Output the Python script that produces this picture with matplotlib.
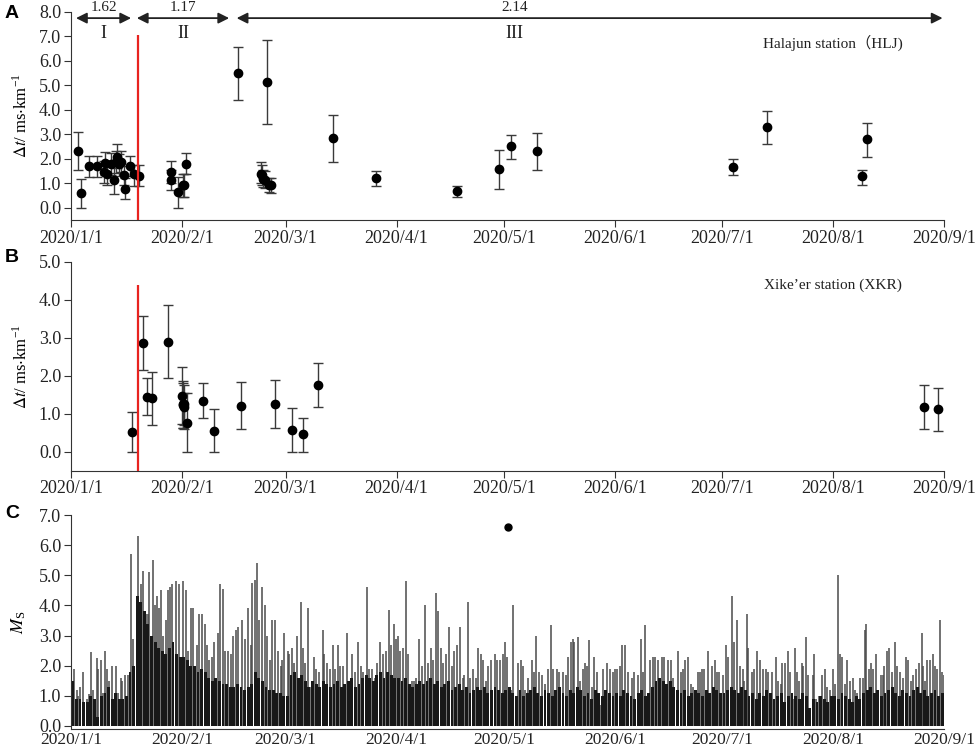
import numpy as np
import matplotlib
matplotlib.use('Agg')
import matplotlib.pyplot as plt
import matplotlib.dates as mdates
from matplotlib.ticker import FuncFormatter, MultipleLocator

# ---- panel A: Halajun station (HLJ), days since 2020-01-01 ----
hlj_day = [1.86, 2.70, 5.12, 7.36, 9.50, 9.22, 9.97, 11.09, 11.93, 12.48, 12.95, 13.51,
           14.07, 14.91, 15.09, 16.58, 17.61, 19.10,
           27.95, 28.05, 29.82, 31.2, 31.5, 32.25,
           46.58, 54.87, 53.0, 53.4, 53.7, 54.2, 55.43, 55.8,
           73.13, 85.24, 107.88, 119.62, 122.97, 130.14,
           185.11, 194.43, 220.98, 222.38]
hlj_dt = [2.32, 0.60, 1.69, 1.69, 1.83, 1.46, 1.39, 1.77, 1.15, 1.87, 2.08, 1.77,
          1.87, 1.32, 0.78, 1.69, 1.38, 1.31,
          1.46, 1.15, 0.64, 0.91, 0.94, 1.80,
          5.49, 5.15, 1.39, 1.32, 1.19, 1.12, 0.94, 0.91,
          2.85, 1.23, 0.70, 1.58, 2.51, 2.32,
          1.67, 3.32, 1.28, 2.81]
hlj_lo = [1.56, 0.00, 1.26, 1.26, 1.35, 1.00, 0.95, 1.32, 0.57, 1.42, 1.62, 1.30,
          1.45, 0.95, 0.37, 1.30, 0.90, 0.87,
          1.00, 0.74, 0.00, 0.44, 0.45, 1.37,
          4.40, 3.41, 1.01, 0.95, 0.85, 0.80, 0.65, 0.62,
          1.87, 0.89, 0.44, 0.78, 1.99, 1.53,
          1.32, 2.62, 0.91, 2.08]
hlj_hi = [3.10, 1.19, 2.12, 2.12, 2.28, 1.90, 1.85, 2.23, 1.72, 2.30, 2.59, 2.20,
          2.30, 1.70, 1.20, 2.12, 1.75, 1.73,
          1.91, 1.55, 1.26, 1.39, 1.37, 2.24,
          6.55, 6.85, 1.87, 1.75, 1.55, 1.50, 1.22, 1.20,
          3.78, 1.50, 0.90, 2.35, 2.99, 3.07,
          1.98, 3.96, 1.56, 3.48]

# phase arrows: (start day, end day, mean delay, phase name)
phase_start = [1.4, 18.4, 46.3]
phase_end = [16.8, 44.2, 243.6]
phase_mean = ['1.62', '1.17', '2.14']
phase_name = ['I', 'II', 'III']
phase_label_day = [9.1, 31.3, 124.0]

# ---- panel B: Xike'er station (XKR) ----
xkr_day = [16.96, 20.0, 21.2, 22.5, 27.2, 31.1, 31.2, 31.35, 31.5, 31.7, 32.3, 36.8, 40.0,
           47.5, 57.0, 61.7, 64.8, 69.1, 238.4, 242.4]
xkr_dt = [0.53, 2.87, 1.45, 1.41, 2.90, 1.47, 1.26, 1.23, 1.19, 1.26, 0.77, 1.35, 0.55,
          1.21, 1.26, 0.57, 0.46, 1.75, 1.19, 1.13]
xkr_lo = [0.00, 2.15, 0.96, 0.70, 1.94, 0.72, 0.63, 0.62, 0.60, 0.70, 0.00, 0.90, 0.00,
          0.61, 0.63, 0.00, 0.00, 1.17, 0.59, 0.55]
xkr_hi = [1.05, 3.59, 1.94, 2.10, 3.87, 2.22, 1.87, 1.80, 1.75, 1.55, 1.54, 1.80, 1.12,
          1.84, 1.89, 1.15, 0.90, 2.33, 1.76, 1.69]

mainshock_day = 18.7

# ---- panel C: earthquake magnitudes ----
# bulk level of the dense small events, one value per day
jan_bulk = [1.5, 0.9, 0.9, 0.8, 0.8, 1.0, 0.9, 0.3, 1.0, 1.1, 1.3, 0.9, 1.1, 0.9, 0.9, 1.0,
            1.8, 2.0, 4.3, 4.1, 3.8, 3.4, 3.0, 2.8, 2.6, 2.5, 2.4, 2.6, 2.8, 2.4, 2.3]
feb_bulk = [2.3, 2.2, 2.0, 2.0, 1.8, 1.9, 1.8, 1.6, 1.5, 1.6, 1.5, 1.4, 1.4, 1.3, 1.3, 1.4,
            1.3, 1.2, 1.3, 1.4, 1.8, 1.6, 1.5, 1.3, 1.2, 1.2, 1.1, 1.1, 1.0]
mar_bulk = [1.0, 1.7, 1.8, 1.6, 1.7, 1.5, 1.3, 1.5, 1.4, 1.3, 1.5, 1.4, 1.3, 1.4, 1.5, 1.3,
            1.4, 1.5, 1.6, 1.3, 1.4, 1.6, 1.7, 1.6, 1.5, 1.7, 1.8, 1.6, 1.8, 1.7, 1.6]
apr_bulk = [1.6, 1.5, 1.6, 1.4, 1.3, 1.4, 1.5, 1.4, 1.5, 1.6, 1.4, 1.5, 1.3, 1.4, 1.5, 1.2,
            1.3, 1.4, 1.2, 1.3, 1.1, 1.2, 1.3, 1.2, 1.3, 1.1, 1.2, 1.3, 1.2, 1.1]
may_bulk = [1.2, 1.3, 1.1, 1.0, 1.2, 1.0, 1.1, 1.2, 1.3, 1.1, 1.0, 1.2, 1.1, 1.0, 1.2, 1.3,
            1.1, 1.0, 1.2, 1.1, 1.3, 1.2, 1.0, 1.1, 0.9, 1.2, 1.1, 1.0, 1.2, 1.1, 1.0]
jun_bulk = [1.1, 1.0, 1.2, 1.1, 1.0, 0.9, 1.1, 1.2, 1.0, 1.1, 1.3, 1.5, 1.6, 1.5, 1.4, 1.5,
            1.3, 1.2, 1.1, 1.2, 1.0, 1.1, 1.2, 1.1, 1.0, 1.2, 1.1, 1.3, 1.2, 1.1]
jul_bulk = [1.1, 1.2, 1.3, 1.2, 1.1, 1.3, 1.2, 1.0, 1.1, 0.9, 1.1, 1.0, 1.2, 1.1, 0.9, 1.0,
            1.1, 0.8, 1.0, 1.1, 1.0, 0.9, 1.1, 1.0, 0.6, 0.9, 0.8, 1.0, 0.9, 0.8, 1.0]
aug_bulk = [1.0, 0.9, 1.1, 1.0, 0.9, 0.8, 1.0, 0.9, 1.1, 1.2, 1.3, 1.1, 1.2, 1.0, 1.1, 1.2,
            1.3, 1.1, 1.0, 1.2, 1.1, 1.0, 1.2, 1.3, 1.1, 1.2, 1.0, 1.1, 1.2, 1.0, 1.1]

# larger individual events (day, Ms)
spikes_jan_feb = [(0.0, 1.7), (0.93, 1.9), (1.58, 1.2), (2.05, 1.0), (2.52, 1.3), (3.45, 1.8),
                  (4.38, 0.9), (5.03, 1.05), (5.59, 2.45), (6.24, 1.2), (7.18, 2.25), (7.64, 1.9),
                  (8.39, 2.2), (9.04, 1.1), (9.51, 2.5), (9.97, 1.9), (10.72, 1.5), (11.37, 2.0),
                  (12.58, 2.0), (13.23, 1.1), (13.98, 1.6), (14.35, 1.5), (15.10, 1.7), (15.84, 1.7),
                  (16.68, 5.7), (17.43, 2.9), (18.64, 6.3), (19.57, 4.7), (20.22, 5.15), (20.97, 3.7),
                  (21.44, 3.7), (21.90, 5.1), (22.83, 5.5), (23.49, 4.0), (23.95, 4.3), (24.70, 3.9),
                  (25.16, 4.5), (25.63, 3.0), (26.56, 3.5), (27.03, 4.5), (27.77, 4.6), (28.15, 4.7),
                  (29.36, 4.8), (30.29, 4.7), (31.41, 4.8), (32.15, 4.5), (32.81, 2.5), (33.55, 3.9),
                  (34.20, 3.9), (35.13, 2.7), (35.88, 3.7), (36.53, 3.7), (37.46, 3.4), (38.12, 2.7),
                  (38.68, 2.2), (39.33, 2.3), (40.07, 2.8), (41.01, 3.1), (41.66, 4.7), (42.40, 4.55),
                  (43.06, 2.5), (43.99, 2.5), (44.73, 2.4), (45.39, 3.0), (46.04, 3.2), (46.60, 3.3),
                  (47.72, 3.5), (48.65, 2.9), (49.39, 3.9), (50.23, 2.7), (50.70, 4.75), (51.44, 4.85),
                  (51.91, 5.4), (52.66, 3.5), (53.31, 4.6), (54.24, 4.0), (54.89, 3.0), (55.64, 2.2),
                  (56.29, 3.5), (57.04, 3.5), (57.97, 2.5), (58.71, 2.0), (59.09, 2.2), (59.65, 3.1)]
spikes_mar_apr = [(60.58, 2.5), (60.95, 2.4), (61.69, 2.6), (62.44, 2.1), (63.25, 3.0), (64.18, 4.1),
                  (64.93, 2.6), (65.39, 2.1), (66.14, 3.9), (66.79, 1.3), (67.91, 2.3), (68.47, 1.9),
                  (69.40, 1.8), (70.33, 3.2), (70.80, 2.4), (71.64, 2.1), (72.38, 1.9), (73.13, 2.7),
                  (73.78, 1.9), (74.71, 2.7), (75.18, 2.0), (76.11, 2.0), (77.23, 3.1), (77.98, 1.5),
                  (78.63, 2.4), (79.37, 1.8), (80.31, 2.8), (81.05, 2.0), (81.70, 1.8), (82.64, 4.6),
                  (83.29, 1.9), (84.03, 1.9), (84.97, 1.6), (85.62, 2.1), (86.36, 2.8), (87.11, 2.4),
                  (87.95, 2.5), (88.88, 3.85), (89.44, 2.7), (90.28, 3.4), (90.84, 2.9), (91.30, 3.0),
                  (91.95, 2.5), (92.70, 2.6), (93.63, 4.8), (94.28, 2.4), (95.22, 1.5), (95.87, 1.5),
                  (96.43, 1.6), (97.36, 2.9), (98.20, 2.0), (98.94, 4.0), (99.69, 2.1), (100.53, 2.6),
                  (101.27, 2.2), (101.93, 4.4), (102.67, 3.8), (103.33, 2.6), (104.07, 2.1), (104.82, 2.4),
                  (105.56, 3.3), (106.40, 2.0), (107.15, 2.5), (107.80, 2.7), (108.73, 3.3), (109.48, 1.6),
                  (109.85, 1.7), (110.87, 4.1), (111.62, 1.6), (112.46, 1.9), (113.20, 1.6), (113.86, 2.6),
                  (114.51, 2.4), (115.25, 2.2), (116.00, 1.5), (116.65, 2.0), (117.30, 2.2), (118.42, 2.4),
                  (119.17, 2.2), (119.91, 2.2), (120.66, 2.4)]
spikes_may_jun = [(121.31, 2.8), (121.96, 2.3), (122.90, 1.2), (123.64, 4.0), (125.04, 2.1), (125.68, 2.2),
                  (126.43, 2.0), (126.90, 1.2), (127.83, 1.6), (128.76, 2.2), (129.51, 1.8), (129.97, 3.0),
                  (130.81, 1.8), (131.74, 1.7), (132.49, 1.4), (133.42, 1.9), (134.07, 3.35), (134.82, 1.9),
                  (135.75, 1.9), (136.50, 1.8), (137.61, 1.8), (138.27, 1.7), (139.01, 2.3), (139.66, 2.8),
                  (140.22, 2.9), (140.69, 2.8), (141.62, 2.95), (142.27, 1.5), (143.02, 1.9), (143.67, 2.1),
                  (144.23, 2.0), (144.88, 2.85), (145.54, 1.3), (146.28, 2.3), (146.93, 1.8), (148.14, 0.7),
                  (148.80, 1.9), (149.73, 2.1), (150.66, 1.9), (151.41, 1.8), (152.06, 1.9), (152.71, 1.9),
                  (153.46, 2.0), (154.11, 2.7), (154.85, 2.7), (155.79, 1.8), (156.72, 1.6), (157.46, 1.8),
                  (158.40, 1.7), (159.23, 2.9), (159.98, 1.8), (160.45, 3.35), (161.10, 1.0), (161.84, 2.2),
                  (162.59, 2.3), (163.24, 2.3), (164.17, 2.2), (165.11, 2.3), (165.85, 2.3), (166.78, 2.2),
                  (167.62, 2.2), (168.37, 1.6), (169.58, 2.5), (170.42, 1.8), (171.16, 1.9), (171.63, 2.2),
                  (172.38, 2.3), (173.21, 1.4), (173.96, 1.3), (175.17, 1.8), (175.82, 1.8), (176.48, 1.9),
                  (177.04, 1.9), (178.15, 2.5), (179.09, 2.0), (180.02, 2.2), (180.48, 1.8), (181.23, 1.8)]
spikes_jul_aug = [(182.16, 1.7), (183.00, 2.7), (183.75, 2.3), (184.68, 4.3), (185.33, 2.8), (186.08, 3.5),
                  (187.01, 2.0), (187.94, 1.9), (188.12, 1.5), (188.86, 3.7), (189.33, 2.6), (190.45, 1.8),
                  (190.91, 1.9), (191.66, 2.5), (192.59, 2.2), (193.34, 1.9), (194.27, 1.9), (194.92, 1.8),
                  (195.85, 1.8), (196.97, 2.3), (197.72, 1.5), (198.37, 1.4), (198.84, 2.1), (199.58, 2.1),
                  (200.33, 2.5), (200.98, 1.8), (201.73, 0.9), (202.47, 2.6), (202.84, 1.8), (203.59, 1.5),
                  (204.24, 2.1), (204.71, 2.0), (205.36, 2.95), (205.92, 1.7), (206.57, 0.5), (207.32, 1.7),
                  (207.69, 2.4), (208.25, 0.9), (209.09, 1.0), (209.83, 1.7), (210.77, 1.9), (211.42, 1.3),
                  (212.16, 1.2), (213.10, 1.9), (213.65, 1.4), (214.49, 5.0), (214.96, 2.4), (215.52, 2.3),
                  (216.36, 1.4), (217.01, 2.2), (217.75, 1.5), (218.50, 1.6), (219.15, 1.2), (219.62, 1.1),
                  (220.55, 1.6), (221.30, 1.6), (222.04, 3.2), (222.23, 3.4), (222.97, 1.9), (223.72, 2.1),
                  (224.28, 1.9), (225.02, 2.4), (225.68, 1.0), (226.33, 1.7), (226.89, 1.7), (227.35, 2.0),
                  (228.01, 2.5), (228.66, 2.6), (229.40, 1.8), (230.34, 2.8), (230.80, 2.0), (231.73, 1.8),
                  (232.48, 1.6), (233.32, 2.3), (234.06, 2.2), (234.72, 1.5), (235.46, 1.7), (236.21, 1.9),
                  (236.95, 2.1), (237.79, 3.1), (238.26, 2.0), (238.82, 1.5), (239.38, 2.2), (240.12, 2.2),
                  (240.87, 2.4), (241.52, 2.0), (242.17, 1.9), (242.92, 3.5), (243.57, 1.8), (244.04, 1.7)]

big_event_day = 122.2
big_event_ms = 6.6

plt.rcParams['font.family'] = ['Liberation Serif', 'Noto Sans CJK SC', 'DejaVu Serif']
plt.rcParams['mathtext.fontset'] = 'stix'
plt.rcParams['font.size'] = 13

t0 = mdates.date2num(np.datetime64('2020-01-01'))
t_end = mdates.date2num(np.datetime64('2020-09-01'))


def to_x(days):
    return t0 + np.asarray(days, dtype=float)


def date_label(v, pos):
    d = mdates.num2date(v)
    return f"{d.year}/{d.month}/{d.day}"


def style_axis(ax, ylo, yhi, tick_len=5):
    ax.set_xlim(t0, t_end)
    ax.set_ylim(ylo, yhi)
    for s in ['top', 'right']:
        ax.spines[s].set_visible(False)
    for s in ['left', 'bottom']:
        ax.spines[s].set_color('#333333')
        ax.spines[s].set_linewidth(0.8)
    ax.xaxis.set_major_locator(mdates.MonthLocator())
    ax.xaxis.set_major_formatter(FuncFormatter(date_label))
    ax.yaxis.set_major_locator(MultipleLocator(1.0))
    ax.yaxis.set_major_formatter(FuncFormatter(lambda v, p: f"{v:.1f}"))
    ax.tick_params(direction='out', length=5, width=0.8, color='#333333',
                   labelsize=13, labelcolor='#222222', pad=2)
    ax.tick_params(axis='x', length=tick_len)


fig = plt.figure(figsize=(9.76, 7.5), dpi=100)
L, W = 71 / 976, 873 / 976
axA = fig.add_axes([L, 1 - 220 / 750, W, 208 / 750])
axB = fig.add_axes([L, 1 - 470.7 / 750, W, 208.7 / 750])
axC = fig.add_axes([L, 1 - 729 / 750, W, 214 / 750])

ebkw = dict(fmt='o', color='black', ecolor='#3a3a3a', elinewidth=1.0,
            capsize=3.5, capthick=1.0, ms=6, zorder=3)

# panel A
dtA = np.array(hlj_dt)
axA.errorbar(to_x(hlj_day), dtA, yerr=[dtA - np.array(hlj_lo), np.array(hlj_hi) - dtA], **ebkw)
axA.vlines(to_x([mainshock_day]), -0.5, 7.05, color='#e8231f', lw=1.6, zorder=4)
style_axis(axA, -0.5, 8.0)
for x1, x2, m, n, xl in zip(phase_start, phase_end, phase_mean, phase_name, phase_label_day):
    axA.annotate('', xy=(to_x(x2), 7.75), xytext=(to_x(x1), 7.75),
                 arrowprops=dict(arrowstyle='<|-|>', color='#222222', lw=1.3,
                                 mutation_scale=16, shrinkA=0, shrinkB=0),
                 annotation_clip=False)
    axA.text(to_x(xl), 8.2, m, ha='center', va='center', fontsize=11, color='#222222')
    axA.text(to_x(xl), 7.13, n, ha='center', va='center', fontsize=13, color='#222222')
axA.text(to_x(193.4), 6.72, 'Halajun station（HLJ)', ha='left', va='center',
         fontsize=11, color='#222222')
axA.set_ylabel(r'$\Delta t$/ ms$\cdot$km$^{\mathregular{-1}}$', fontsize=12, labelpad=6)

# panel B
dtB = np.array(xkr_dt)
axB.errorbar(to_x(xkr_day), dtB, yerr=[dtB - np.array(xkr_lo), np.array(xkr_hi) - dtB], **ebkw)
axB.vlines(to_x([mainshock_day]), -0.5, 4.39, color='#e8231f', lw=1.6, zorder=4)
style_axis(axB, -0.5, 5.0)
axB.text(to_x(193.7), 4.4, 'Xike\u2019er station (XKR)', ha='left', va='center',
         fontsize=11, color='#222222')
axB.set_ylabel(r'$\Delta t$/ ms$\cdot$km$^{\mathregular{-1}}$', fontsize=12, labelpad=6)

# panel C
bulk = np.array(jan_bulk + feb_bulk + mar_bulk + apr_bulk + may_bulk + jun_bulk + jul_bulk + aug_bulk)
spikes = np.array(spikes_jan_feb + spikes_mar_apr + spikes_may_jun + spikes_jul_aug)
axC.vlines(to_x(spikes[:, 0]), 0, spikes[:, 1], color='#4a4a4a', lw=1.1, zorder=1)
axC.bar(to_x(np.arange(len(bulk)) + 0.5), bulk, width=0.8, color='#181818',
        linewidth=0, zorder=2)
axC.plot(to_x([big_event_day]), [big_event_ms], 'o', color='black', ms=5, zorder=3)
style_axis(axC, -0.1, 7.0, tick_len=0)
axC.tick_params(axis='x', pad=2, labelsize=12.5)
axC.set_ylabel(r'$M_{\mathregular{S}}$', fontsize=13, labelpad=8)

for lab, yp in zip(['A', 'B', 'C'], [14, 258, 514]):
    fig.text(0.005, 1 - yp / 750, lab, fontsize=14, fontweight='bold',
             family='Liberation Sans', va='center', ha='left')

fig.savefig('out.png', dpi=100)
